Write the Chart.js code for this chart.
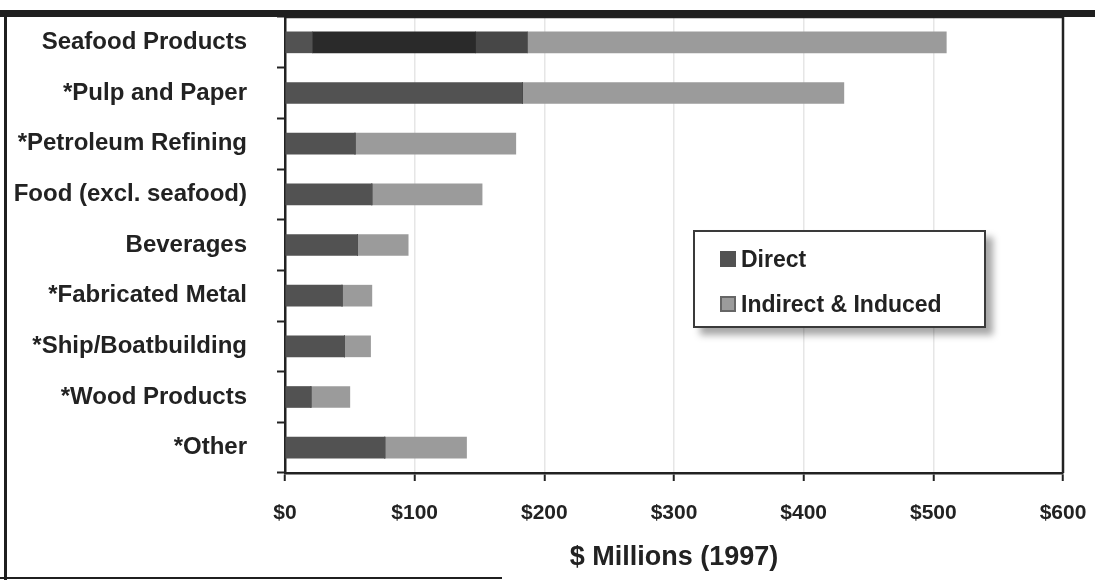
<!DOCTYPE html>
<html>
<head>
<meta charset="utf-8">
<script src="https://cdn.jsdelivr.net/npm/chart.js@4.4.1/dist/chart.umd.min.js"></script>
<style>
html,body{margin:0;padding:0;background:#fff;}
#wrap{position:relative;width:1095px;height:580px;overflow:hidden;background:#fff;}
#c{position:absolute;left:0;top:0;}
.frame{position:absolute;background:#1f1f1f;}
#legend{position:absolute;left:693px;top:230px;width:293px;height:98px;box-sizing:border-box;border:2px solid #3a3a3a;background:#fff;box-shadow:7px 7px 7px rgba(0,0,0,0.35);font:bold 23px "Liberation Sans", Arial, sans-serif;color:#222;}
.item{position:absolute;left:25px;display:flex;align-items:center;white-space:nowrap;height:28px;}
.sw{width:16px;height:16px;margin-right:5px;box-sizing:border-box;}
</style>
</head>
<body>
<div id="wrap">
  <canvas id="c" width="1095" height="580"></canvas>
  <div class="frame" style="left:0;top:10px;width:1095px;height:7px;"></div>
  <div class="frame" style="left:4px;top:10px;width:3px;height:570px;"></div>
  <div class="frame" style="left:0;top:577px;width:502px;height:2px;"></div>
  <div id="legend"></div>
</div>
<script>
const categories = ["Seafood Products","*Pulp and Paper","*Petroleum Refining","Food (excl. seafood)","Beverages","*Fabricated Metal","*Ship/Boatbuilding","*Wood Products","*Other"];
const directValues = [21, 183, 54, 67, 56, 44, 46, 20, 77];
const seafoodDirectDark = [126, 0, 0, 0, 0, 0, 0, 0, 0];
const seafoodDirectRest = [40, 0, 0, 0, 0, 0, 0, 0, 0];
const indirectValues = [323, 248, 124, 85, 39, 23, 20, 30, 63];
const xTicks = [0, 100, 200, 300, 400, 500, 600];
const xTitle = "$ Millions (1997)";
const legendLabels = ["Direct", "Indirect & Induced"];

const FONT = '"Liberation Sans", Arial, sans-serif';
const INK = '#222';

const frameBox = {
  id: 'frameBox',
  afterDraw(chart) {
    const {ctx, chartArea:a} = chart;
    ctx.save();
    ctx.strokeStyle = INK;
    ctx.lineWidth = 2.5;
    ctx.beginPath();
    ctx.moveTo(a.left, a.top);
    ctx.lineTo(a.right, a.top);
    ctx.lineTo(a.right, a.bottom);
    ctx.stroke();
    ctx.restore();
  }
};

const chart = new Chart(document.getElementById('c'), {
  type: 'bar',
  data: {
    labels: categories,
    datasets: [
      {label: legendLabels[0], data: directValues, backgroundColor: '#525252', barThickness: 21},
      {label: 'Direct (seafood, dark)', data: seafoodDirectDark, backgroundColor: '#2a2a2a', barThickness: 21},
      {label: 'Direct (seafood, rest)', data: seafoodDirectRest, backgroundColor: '#474747', barThickness: 21},
      {label: legendLabels[1], data: indirectValues, backgroundColor: '#9b9b9b', barThickness: 21}
    ]
  },
  options: {
    responsive: false,
    animation: false,
    devicePixelRatio: 1,
    indexAxis: 'y',
    layout: {padding: {top: 17, right: 32, left: 0, bottom: 0}},
    plugins: {legend: {display: false}, tooltip: {enabled: false}},
    scales: {
      x: {
        stacked: true,
        min: xTicks[0],
        max: xTicks[xTicks.length - 1],
        afterBuildTicks(s) { s.ticks = xTicks.map(v => ({value: v})); },
        ticks: {callback: v => '$' + v, font: {family: FONT, size: 21, weight: 'bold'}, color: INK, padding: 20},
        grid: {color: '#e6e6e6', lineWidth: 1.5, tickColor: INK, tickLength: 8, tickWidth: 2},
        border: {color: INK, width: 2.5},
        title: {display: true, text: xTitle, font: {family: FONT, size: 27, weight: 'bold'}, color: INK, padding: {top: 0, bottom: 6}},
        afterFit(s) { s.height = 107; s.paddingLeft = 0; s.paddingRight = 0; }
      },
      y: {
        stacked: true,
        ticks: {font: {family: FONT, size: 24, weight: 'bold'}, color: INK, padding: 30},
        grid: {drawOnChartArea: false, tickColor: INK, tickLength: 8, tickWidth: 2},
        border: {color: INK, width: 2.5},
        afterFit(s) { s.width = 285; s.paddingTop = 0; s.paddingBottom = 0; }
      }
    }
  },
  plugins: [frameBox]
});

// HTML legend built from the chart's datasets
const leg = document.getElementById('legend');
const tops = [13, 58];
chart.data.datasets.filter(d => legendLabels.includes(d.label)).forEach((d, i) => {
  const it = document.createElement('div');
  it.className = 'item';
  it.style.top = tops[i] + 'px';
  const sw = document.createElement('span');
  sw.className = 'sw';
  sw.style.background = d.backgroundColor;
  if (i === 1) sw.style.border = '2px solid #666';
  const tx = document.createElement('span');
  tx.textContent = d.label;
  it.appendChild(sw);
  it.appendChild(tx);
  leg.appendChild(it);
});
</script>
</body>
</html>
